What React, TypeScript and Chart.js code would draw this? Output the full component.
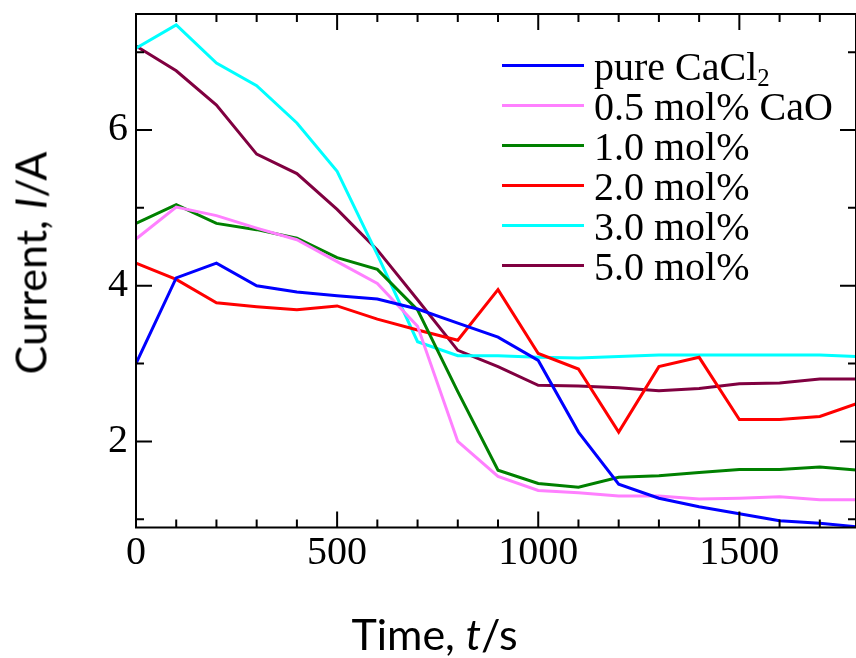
import React, { useEffect, useRef } from "react";
import { Chart, registerables } from "chart.js";

Chart.register(...registerables);

// ---- data ----
const times = [0, 100, 200, 300, 400, 500, 600, 700, 800, 900, 1000, 1100, 1200, 1300, 1400, 1500, 1600, 1700, 1800];
const pureCaCl2 = [3.0, 4.1, 4.29, 4.0, 3.92, 3.87, 3.83, 3.7, 3.52, 3.34, 3.04, 2.12, 1.45, 1.27, 1.16, 1.07, 0.98, 0.95, 0.9];
const cao05 = [4.6, 5.01, 4.9, 4.74, 4.59, 4.31, 4.03, 3.48, 2.0, 1.55, 1.37, 1.34, 1.3, 1.3, 1.26, 1.27, 1.29, 1.25, 1.25];
const cao10 = [4.8, 5.04, 4.8, 4.72, 4.61, 4.36, 4.21, 3.69, 2.64, 1.63, 1.46, 1.41, 1.54, 1.56, 1.6, 1.64, 1.64, 1.67, 1.63];
const cao20 = [4.29, 4.08, 3.78, 3.73, 3.69, 3.74, 3.57, 3.43, 3.3, 3.95, 3.13, 2.93, 2.12, 2.96, 3.08, 2.28, 2.28, 2.32, 2.5];
const cao30 = [7.05, 7.35, 6.86, 6.57, 6.09, 5.47, 4.4, 3.28, 3.1, 3.1, 3.08, 3.07, 3.09, 3.11, 3.11, 3.11, 3.11, 3.11, 3.09];
const cao50 = [7.08, 6.76, 6.32, 5.69, 5.44, 4.98, 4.46, 3.82, 3.17, 2.96, 2.72, 2.71, 2.69, 2.65, 2.68, 2.74, 2.75, 2.8, 2.8];

const seriesNames = ["pure CaCl2", "0.5 mol% CaO", "1.0 mol%", "2.0 mol%", "3.0 mol%", "5.0 mol%"];
const seriesValues = [pureCaCl2, cao05, cao10, cao20, cao30, cao50];
const seriesColors = ["#0000ff", "#ff80ff", "#008000", "#ff0000", "#00ffff", "#800040"];

const xMajorTicks = [0, 500, 1000, 1500];
const xMinorTicks = [100, 200, 300, 400, 600, 700, 800, 900, 1100, 1200, 1300, 1400, 1600, 1700];
const yMajorTicks = [2, 4, 6];
const yMinorTicks = [1, 3, 5, 7];

const X_MIN = 0;
const X_MAX = 1790;
const Y_MIN = 0.894;
const Y_MAX = 7.49;

const W = 856;
const H = 658;
const SERIF = "'Liberation Serif', 'Times New Roman', serif";
const SANS = "Lato, 'Open Sans', sans-serif";

const framePlugin = {
  id: "frame",
  afterDraw(chart: any) {
    const { ctx, chartArea } = chart;
    const { left, right, top, bottom } = chartArea;
    const xs = chart.scales.x;
    const ys = chart.scales.y;
    ctx.save();
    ctx.strokeStyle = "#000";
    ctx.lineWidth = 2;
    ctx.beginPath();
    ctx.moveTo(left - 1, top);
    ctx.lineTo(right + 2, top);
    ctx.moveTo(left - 1, bottom);
    ctx.lineTo(right + 2, bottom);
    ctx.moveTo(left, top - 1);
    ctx.lineTo(left, bottom + 1);
    ctx.moveTo(right, top - 1);
    ctx.lineTo(right, bottom + 1);
    const xt = (vals: number[], len: number) => {
      vals.forEach((v) => {
        const px = xs.getPixelForValue(v);
        ctx.moveTo(px, bottom);
        ctx.lineTo(px, bottom - len);
        ctx.moveTo(px, top);
        ctx.lineTo(px, top + len);
      });
    };
    const yt = (vals: number[], len: number) => {
      vals.forEach((v) => {
        const py = ys.getPixelForValue(v);
        ctx.moveTo(left, py);
        ctx.lineTo(left + len, py);
        ctx.moveTo(right, py);
        ctx.lineTo(right - len, py);
      });
    };
    xt(xMajorTicks, 16);
    xt(xMinorTicks, 8);
    yt(yMajorTicks, 16);
    yt(yMinorTicks, 8);
    ctx.stroke();
    ctx.restore();
  },
};

export default function App() {
  const canvasRef = useRef<HTMLCanvasElement | null>(null);

  useEffect(() => {
    if (!canvasRef.current) return;
    const chart = new Chart(canvasRef.current, {
      type: "line",
      data: {
        datasets: seriesValues.map((vals, i) => ({
          label: seriesNames[i],
          data: times.map((t, j) => ({ x: t, y: vals[j] })),
          borderColor: seriesColors[i],
          backgroundColor: seriesColors[i],
          borderWidth: 3,
          pointRadius: 0,
          tension: 0,
          fill: false,
        })),
      },
      options: {
        animation: false,
        responsive: false,
        devicePixelRatio: 1,
        layout: { padding: { top: 14, right: 0, left: 0, bottom: 0 } },
        plugins: { legend: { display: false }, tooltip: { enabled: false } },
        scales: {
          x: {
            type: "linear",
            min: X_MIN,
            max: X_MAX,
            grid: { display: false, drawTicks: false },
            border: { display: false },
            afterFit: (s: any) => {
              s.height = 130.5;
              s.paddingLeft = 0;
              s.paddingRight = 0;
              s.paddingTop = 0;
              s.paddingBottom = 0;
            },
            afterBuildTicks: (s: any) => {
              s.ticks = xMajorTicks.map((v) => ({ value: v }));
            },
            ticks: {
              autoSkip: false,
              maxRotation: 0,
              padding: 6,
              color: "#000",
              font: { family: SERIF, size: 40, lineHeight: 1 },
              callback: (v: any) => String(v),
            },
          },
          y: {
            type: "linear",
            min: Y_MIN,
            max: Y_MAX,
            grid: { display: false, drawTicks: false },
            border: { display: false },
            afterFit: (s: any) => {
              s.width = 136;
              s.paddingLeft = 0;
              s.paddingRight = 0;
              s.paddingTop = 0;
              s.paddingBottom = 0;
            },
            afterBuildTicks: (s: any) => {
              s.ticks = yMajorTicks.map((v) => ({ value: v }));
            },
            ticks: {
              autoSkip: false,
              padding: 8,
              color: "#000",
              font: { family: SERIF, size: 40, lineHeight: 1 },
              callback: (v: any) => String(v),
            },
          },
        },
      },
      plugins: [framePlugin],
    } as any);
    return () => chart.destroy();
  }, []);

  return (
    <div style={{ position: "fixed", left: 0, top: 0, width: W, height: H, overflow: "hidden", background: "#fff" }}>
      <canvas ref={canvasRef} width={W} height={H} style={{ display: "block", width: W, height: H }} />
      {/* Legend */}
      {seriesNames.map((name, i) => (
        <div
          key={name}
          style={{
            position: "absolute",
            left: 502,
            top: 46.5 + i * 40,
            height: 40,
            width: 340,
            fontFamily: SERIF,
            fontSize: 40,
            lineHeight: "40px",
            color: "#000",
            whiteSpace: "nowrap",
            pointerEvents: "none",
          }}
        >
          <span style={{ position: "absolute", left: 0, top: 17, width: 82, height: 3, background: seriesColors[i] }} />
          <span style={{ position: "absolute", left: 92, top: 0 }}>
            {name === "pure CaCl2" ? (
              <>
                pure CaCl
                <span style={{ fontSize: "0.62em", position: "relative", top: "0.28em" }}>2</span>
              </>
            ) : (
              name
            )}
          </span>
        </div>
      ))}
      {/* X title */}
      <div
        style={{
          position: "absolute",
          left: 434.5,
          top: 612.3,
          transform: "translateX(-50%)",
          fontFamily: SANS,
          fontSize: 43,
          lineHeight: "43px",
          whiteSpace: "nowrap",
          color: "#000",
        }}
      >
        Time, <i>t</i>/s
      </div>
      {/* Y title */}
      <div
        style={{
          position: "absolute",
          left: 30.3,
          top: 262.5,
          transform: "translate(-50%, -50%) rotate(-90deg)",
          fontFamily: SANS,
          fontSize: 43,
          lineHeight: "43px",
          whiteSpace: "nowrap",
          color: "#000",
        }}
      >
        Current, <i>I</i>/A
      </div>
    </div>
  );
}
